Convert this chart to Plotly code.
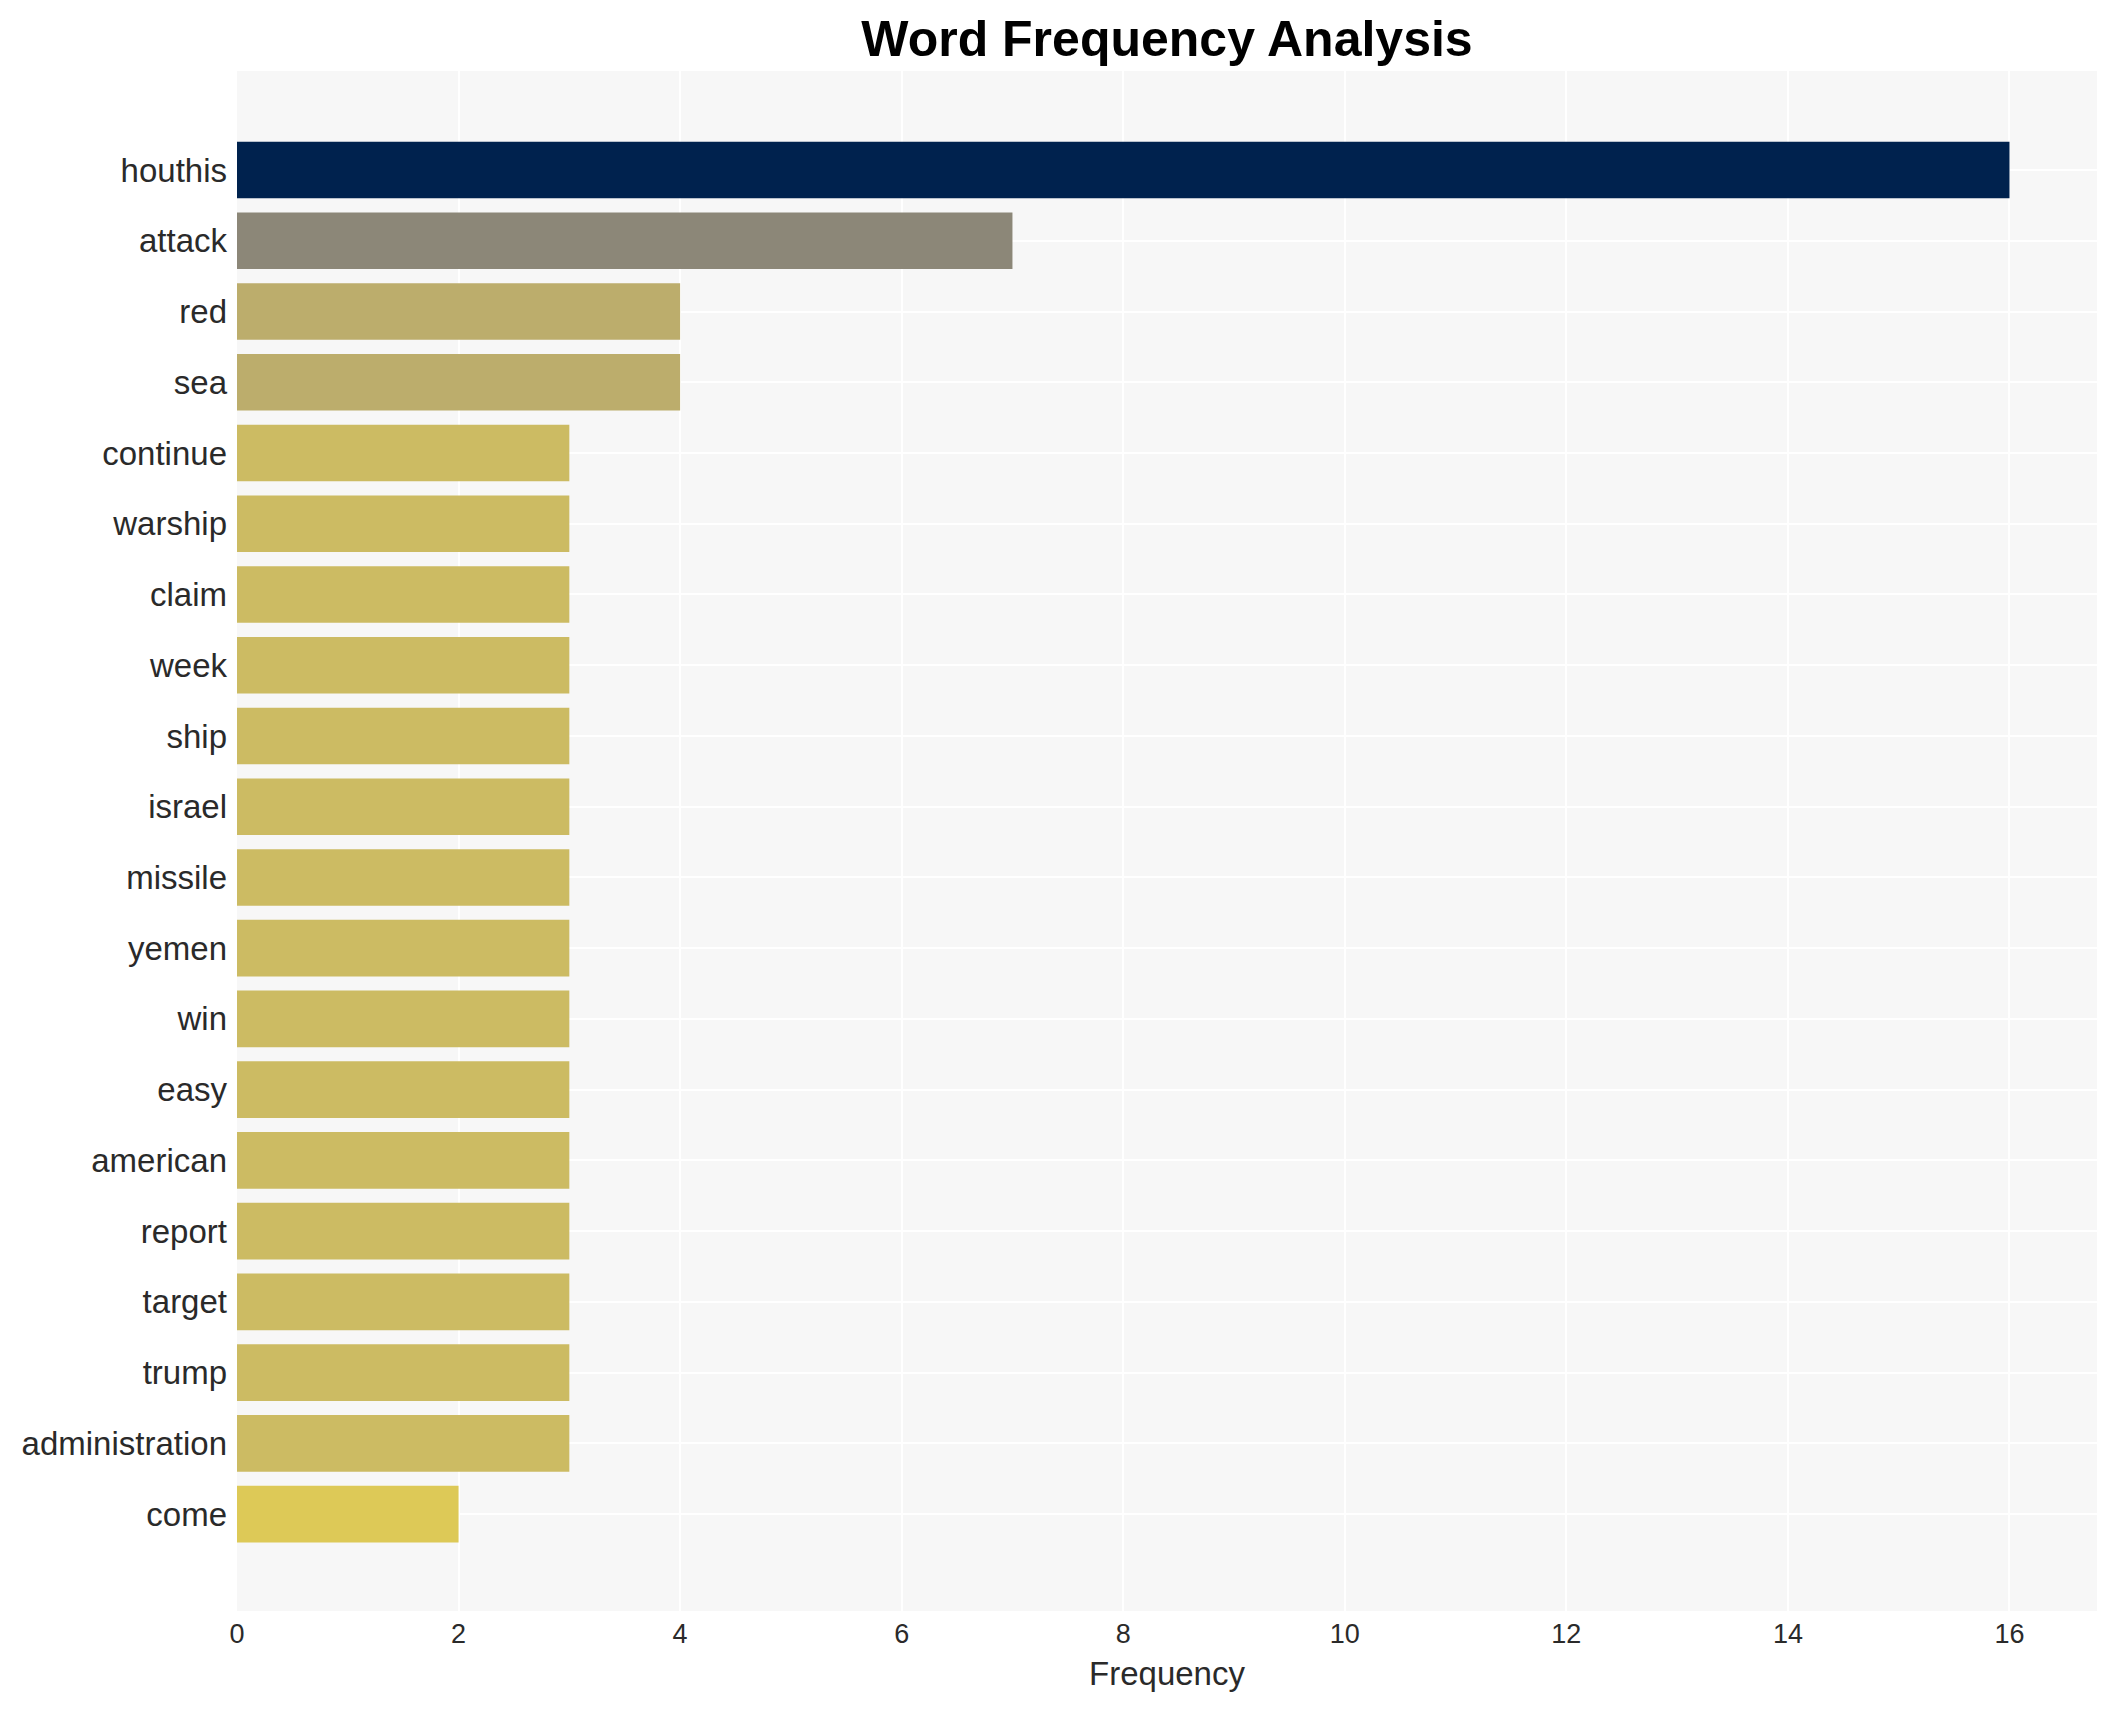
import plotly.graph_objects as go

words = ["houthis", "attack", "red", "sea", "continue", "warship", "claim", "week",
         "ship", "israel", "missile", "yemen", "win", "easy", "american", "report",
         "target", "trump", "administration", "come"]
counts = [16, 7, 4, 4, 3, 3, 3, 3, 3, 3, 3, 3, 3, 3, 3, 3, 3, 3, 3, 2]

fig = go.Figure(
    go.Bar(
        x=counts,
        y=words,
        orientation="h",
        marker=dict(color=counts, colorscale="Cividis", reversescale=True,
                    cmin=0, cmax=16, line=dict(width=0)),
        width=0.8,
    )
)

n = len(words)
W, H = 2101, 1694
fig.update_layout(
    width=W,
    height=H,
    paper_bgcolor="white",
    plot_bgcolor="#F7F7F7",
    margin=dict(l=229, r=12, t=63, b=91, autoexpand=False),
    font=dict(family="Arial, Liberation Sans, sans-serif", color="#2a2a2a"),
    title=dict(
        text="<b>Word Frequency Analysis</b>",
        x=0.5, xref="paper", xanchor="center",
        y=1 - 30 / H, yref="container", yanchor="middle",
        font=dict(size=50, color="black", family="Arial, Liberation Sans, sans-serif"),
    ),
    showlegend=False,
    bargap=0.2,
)
fig.update_xaxes(
    title=dict(text="Frequency", font=dict(size=33), standoff=13),
    tickfont=dict(size=27),
    ticklabelstandoff=4,
    range=[0, 16.79],
    dtick=2,
    showgrid=True, gridcolor="white", gridwidth=2,
    zeroline=False,
    ticks="", showline=False,
)
fig.update_yaxes(
    type="category",
    categoryorder="array", categoryarray=words,
    range=[n - 1 + 1.37, -1.4],
    tickfont=dict(size=33),
    ticklabelstandoff=9,
    showgrid=True, gridcolor="white", gridwidth=2,
    ticks="", ticklen=0, showline=False,
)

fig.write_html("out.html")
